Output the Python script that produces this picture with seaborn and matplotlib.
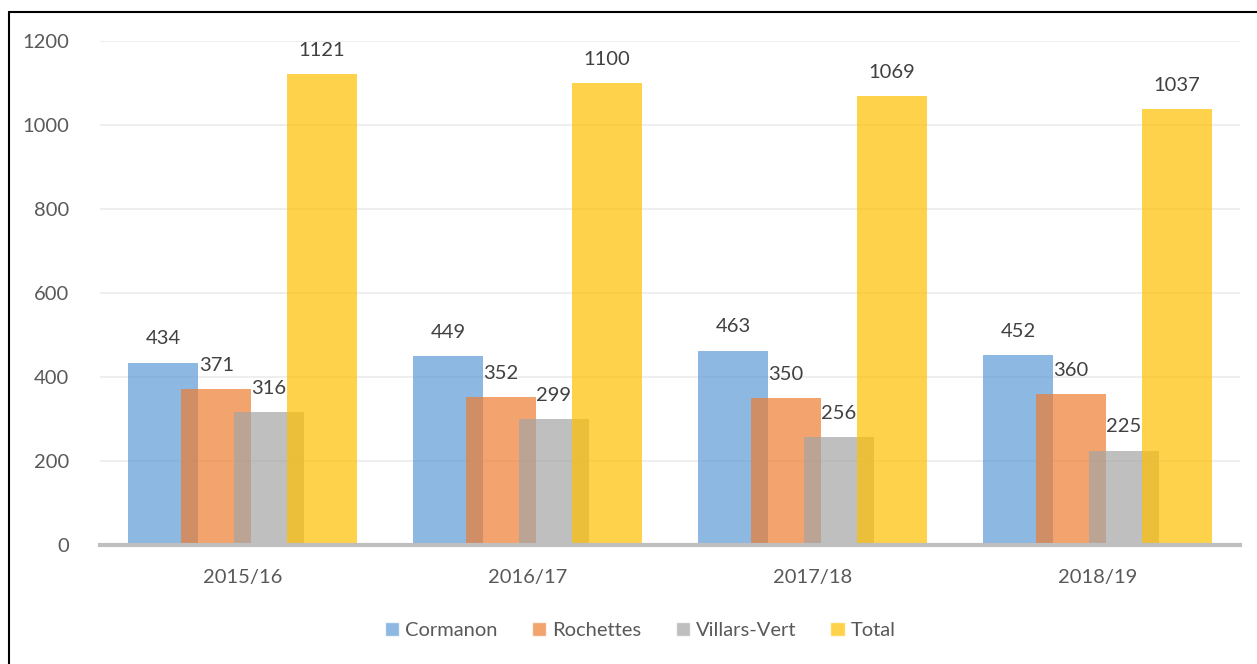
import pandas as pd
import seaborn as sns
import matplotlib.pyplot as plt
from matplotlib.lines import Line2D

seasons = ["2015/16", "2016/17", "2017/18", "2018/19"]
series = ["Cormanon", "Rochettes", "Villars-Vert", "Total"]
cormanon = [434, 449, 463, 452]
rochettes = [371, 352, 350, 360]
villars_vert = [316, 299, 256, 225]
total = [1121, 1100, 1069, 1037]

colors = ["#5B9BD5", "#ED7D31", "#A5A5A5", "#FFC000"]

rows = []
for name, vals in zip(series, [cormanon, rochettes, villars_vert, total]):
    for s, v in zip(seasons, vals):
        rows.append({"Season": s, "Site": name, "Value": v})
df = pd.DataFrame(rows)

sns.set_style("white")
plt.rcParams["font.family"] = ["Lato", "DejaVu Sans"]

fig = plt.figure(figsize=(12.57, 6.64), dpi=100)
ax = fig.add_axes([100 / 1257, 1 - 545 / 664, 1140 / 1257, (545 - 41) / 664])

sns.barplot(data=df, x="Season", y="Value", hue="Site", order=seasons,
            hue_order=series, palette=colors, width=0.74, alpha=0.7,
            saturation=1, ax=ax)

# widen bars so neighbours overlap like the original
bar_w = 0.246
for c in ax.containers:
    for p in c.patches:
        cx = p.get_x() + p.get_width() / 2
        p.set_width(bar_w)
        p.set_x(cx - bar_w / 2)
        p.set_linewidth(0)
    ax.bar_label(c, padding=11, fontsize=14.5, color="#404040")

ax.set_ylim(0, 1200)
ax.set_xlim(-0.5, 3.5)
ax.set_yticks(range(0, 1201, 200))
ax.yaxis.grid(True, color="#EBEBEB", linewidth=1.2)
ax.set_axisbelow(True)
for sp in ["left", "right", "top"]:
    ax.spines[sp].set_visible(False)
ax.spines["bottom"].set_color("#BFBFBF")
ax.spines["bottom"].set_linewidth(3)
ax.set_xlabel("")
ax.set_ylabel("")
ax.tick_params(axis="y", length=0, pad=22, labelsize=14.5, labelcolor="#595959")
ax.tick_params(axis="x", length=0, pad=17, labelsize=14.5, labelcolor="#595959")

sns.move_legend(ax, "center", bbox_to_anchor=(0.474, -0.17), ncol=4,
                frameon=False, title=None, fontsize=14.5,
                handlelength=0.7, handleheight=0.7, handletextpad=0.3,
                columnspacing=1.7, labelcolor="#595959")

# outer border like the pasted Excel frame
fig.add_artist(Line2D([9 / 1257, 9 / 1257], [0, 1 - 12 / 664], color="black", lw=1.5))
fig.add_artist(Line2D([9 / 1257, 1], [1 - 12 / 664, 1 - 12 / 664], color="black", lw=1.5))

plt.savefig("out.png", dpi=100)
